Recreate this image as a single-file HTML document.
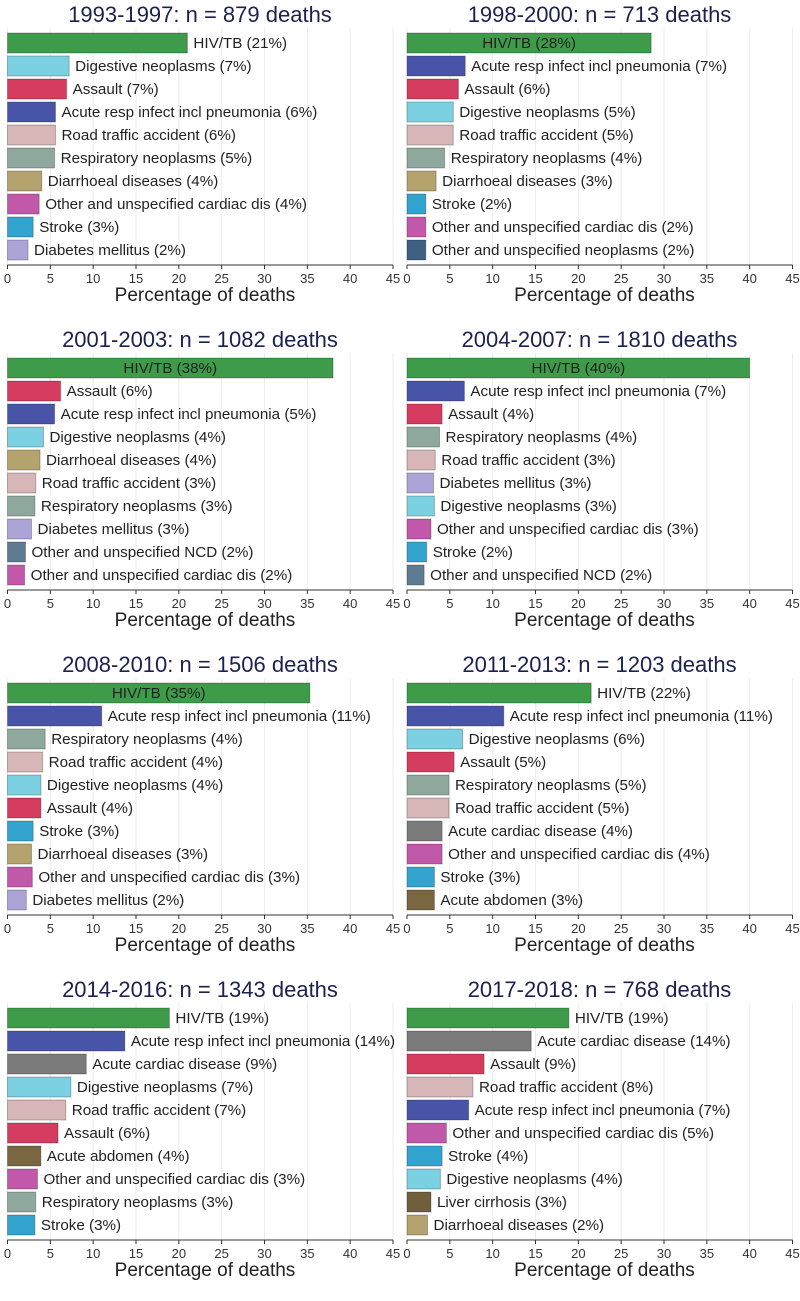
<!DOCTYPE html>
<html><head><meta charset="utf-8"><style>
body{margin:0;background:#fff;}
svg{display:block;font-family:"Liberation Sans",Arial,sans-serif;}
</style></head><body>
<svg id="chart" width="800" height="1301" viewBox="0 0 800 1301" xmlns="http://www.w3.org/2000/svg"></svg>
<script>
const titles=["1993-1997: n = 879 deaths","1998-2000: n = 713 deaths","2001-2003: n = 1082 deaths","2004-2007: n = 1810 deaths","2008-2010: n = 1506 deaths","2011-2013: n = 1203 deaths","2014-2016: n = 1343 deaths","2017-2018: n = 768 deaths"];
const cats1=["HIV/TB","Digestive neoplasms","Assault","Acute resp infect incl pneumonia","Road traffic accident","Respiratory neoplasms","Diarrhoeal diseases","Other and unspecified cardiac dis","Stroke","Diabetes mellitus"];
const vals1=[21,7.2,6.9,5.6,5.6,5.5,4,3.7,3,2.4];
const pct1=[21,7,7,6,6,5,4,4,3,2];
const cats2=["HIV/TB","Acute resp infect incl pneumonia","Assault","Digestive neoplasms","Road traffic accident","Respiratory neoplasms","Diarrhoeal diseases","Stroke","Other and unspecified cardiac dis","Other and unspecified neoplasms"];
const vals2=[28.5,6.8,6,5.4,5.4,4.4,3.4,2.2,2.2,2.2];
const pct2=[28,7,6,5,5,4,3,2,2,2];
const cats3=["HIV/TB","Assault","Acute resp infect incl pneumonia","Digestive neoplasms","Diarrhoeal diseases","Road traffic accident","Respiratory neoplasms","Diabetes mellitus","Other and unspecified NCD","Other and unspecified cardiac dis"];
const vals3=[38,6.2,5.5,4.2,3.8,3.3,3.2,2.8,2.1,2];
const pct3=[38,6,5,4,4,3,3,3,2,2];
const cats4=["HIV/TB","Acute resp infect incl pneumonia","Assault","Respiratory neoplasms","Road traffic accident","Diabetes mellitus","Digestive neoplasms","Other and unspecified cardiac dis","Stroke","Other and unspecified NCD"];
const vals4=[40,6.7,4.1,3.8,3.3,3.1,3.2,2.8,2.3,2];
const pct4=[40,7,4,4,3,3,3,3,2,2];
const cats5=["HIV/TB","Acute resp infect incl pneumonia","Respiratory neoplasms","Road traffic accident","Digestive neoplasms","Assault","Stroke","Diarrhoeal diseases","Other and unspecified cardiac dis","Diabetes mellitus"];
const vals5=[35.3,11,4.4,4.1,3.9,3.9,3,2.8,2.9,2.2];
const pct5=[35,11,4,4,4,4,3,3,3,2];
const cats6=["HIV/TB","Acute resp infect incl pneumonia","Digestive neoplasms","Assault","Respiratory neoplasms","Road traffic accident","Acute cardiac disease","Other and unspecified cardiac dis","Stroke","Acute abdomen"];
const vals6=[21.5,11.3,6.5,5.5,4.9,4.9,4.1,4.1,3.2,3.2];
const pct6=[22,11,6,5,5,5,4,4,3,3];
const cats7=["HIV/TB","Acute resp infect incl pneumonia","Acute cardiac disease","Digestive neoplasms","Road traffic accident","Assault","Acute abdomen","Other and unspecified cardiac dis","Respiratory neoplasms","Stroke"];
const vals7=[18.9,13.7,9.2,7.4,6.8,5.9,3.9,3.5,3.3,3.2];
const pct7=[19,14,9,7,7,6,4,3,3,3];
const cats8=["HIV/TB","Acute cardiac disease","Assault","Road traffic accident","Acute resp infect incl pneumonia","Other and unspecified cardiac dis","Stroke","Digestive neoplasms","Liver cirrhosis","Diarrhoeal diseases"];
const vals8=[18.9,14.5,9,7.7,7.2,4.6,4.1,3.9,2.8,2.4];
const pct8=[19,14,9,8,7,5,4,4,3,2];
const ticks=[0,5,10,15,20,25,30,35,40,45];

const colors={"HIV/TB":"#3d9b4a","Digestive neoplasms":"#7bd0e2","Assault":"#d53c60","Acute resp infect incl pneumonia":"#4854a8","Road traffic accident":"#d6b6b6","Respiratory neoplasms":"#8fa89e","Diarrhoeal diseases":"#b5a36f","Other and unspecified cardiac dis":"#c258aa","Stroke":"#33a4d0","Diabetes mellitus":"#aca4d6","Other and unspecified neoplasms":"#3e6183","Other and unspecified NCD":"#5f7b91","Acute cardiac disease":"#7b7b7b","Acute abdomen":"#7a6641","Liver cirrhosis":"#6f5f3b"};
const panels=[[cats1,vals1,pct1],[cats2,vals2,pct2],[cats3,vals3,pct3],[cats4,vals4,pct4],[cats5,vals5,pct5],[cats6,vals6,pct6],[cats7,vals7,pct7],[cats8,vals8,pct8]];
const svg=document.getElementById('chart');
const NS="http://www.w3.org/2000/svg";
function mk(tag,attrs,parent){const e=document.createElementNS(NS,tag);for(const k in attrs)e.setAttribute(k,attrs[k]);parent.appendChild(e);return e;}
panels.forEach((p,i)=>{
  const ox=(i%2)*399.5, oy=Math.floor(i/2)*325;
  const x0=ox+7.5, scale=385.5/45;
  const xs=v=>x0+v*scale;
  const ys=k=>oy+33+k*23;
  const g=mk('g',{},svg);
  
  
  ticks.forEach(t=>{
    const gl=mk('line',{x1:xs(t),x2:xs(t),y1:oy+28,y2:oy+265,stroke:'#ececec','stroke-width':1},g);
    
    
  });
  const t=mk('text',{x:ox+200,y:oy+22,'text-anchor':'middle','font-size':22,fill:'#1c2150'},g);
  t.textContent=titles[i];
  
  
  const [cats,vals,pct]=p;
  cats.forEach((c,k)=>{
    const w=xs(vals[k])-x0;
    const r=mk('rect',{x:x0,y:ys(k),width:w,height:20,fill:colors[c],stroke:'rgba(0,0,0,0.25)','stroke-width':1},g);
    
    
    const lbl=c+' ('+pct[k]+'%)';
    const inside=(k===0&&vals[k]>25);
    const tx=mk('text',{x:inside?x0+w/2:xs(vals[k])+6,y:ys(k)+15,'text-anchor':inside?'middle':'start','font-size':15.2,fill:'#222'},g);
    tx.textContent=lbl;
    
    
  });
  const ax=mk('line',{x1:x0,x2:xs(45),y1:oy+265,y2:oy+265,stroke:'#333','stroke-width':1},g);
  
  
  ticks.forEach(tv=>{
    const tk=mk('line',{x1:xs(tv),x2:xs(tv),y1:oy+265,y2:oy+269,stroke:'#333','stroke-width':1},g);
    
    
    const tl=mk('text',{x:xs(tv),y:oy+283,'text-anchor':'middle','font-size':13,fill:'#333'},g);
    tl.textContent=tv;
    
    
  });
  const at=mk('text',{x:ox+205,y:oy+301,'text-anchor':'middle','font-size':19,fill:'#222'},g);
  at.textContent='Percentage of deaths';
  
  
});
</script>
</body></html>
